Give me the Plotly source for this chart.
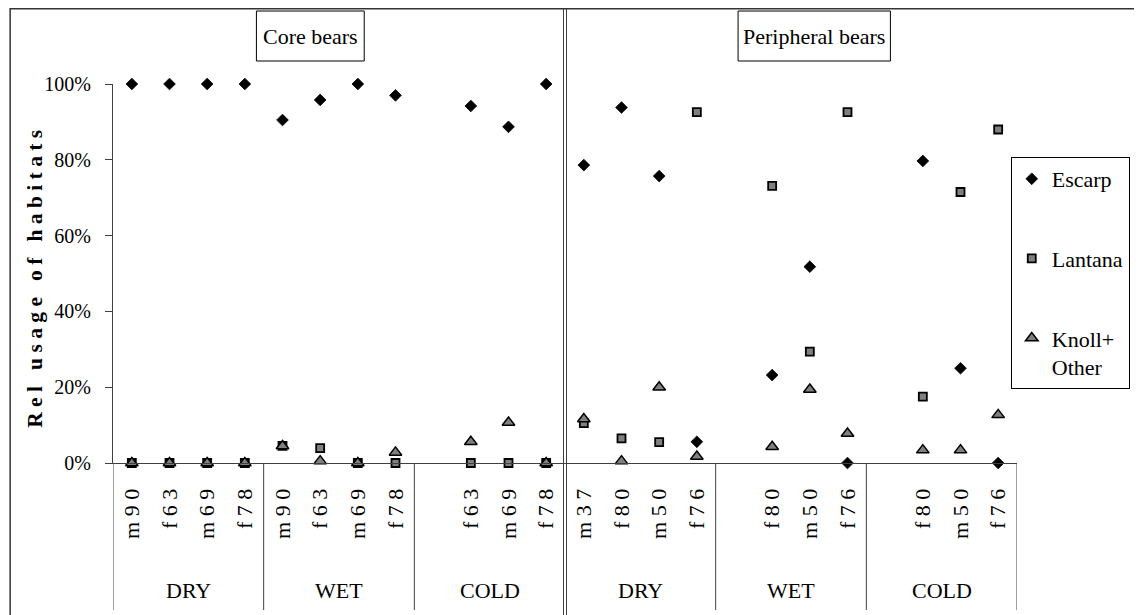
import plotly.graph_objects as go

# ---------------- data ----------------
bear_labels = ["m 9 0", "f 6 3", "m 6 9", "f 7 8",
               "m 9 0", "f 6 3", "m 6 9", "f 7 8",
               "", "f 6 3", "m 6 9", "f 7 8",
               "m 3 7", "f 8 0", "m 5 0", "f 7 6",
               "", "f 8 0", "m 5 0", "f 7 6",
               "", "f 8 0", "m 5 0", "f 7 6"]
season_labels = ["DRY", "WET", "COLD", "DRY", "WET", "COLD"]
panel_titles = ["Core bears", "Peripheral bears"]

escarp = [100, 100, 100, 100, 90.5, 95.8, 100, 97.0, None, 94.2, 88.7, 100,
          78.6, 93.8, 75.7, 5.6, None, 23.2, 51.8, 0, None, 79.7, 25.0, 0]
lantana = [0, 0, 0, 0, 4.5, 3.9, 0, 0, None, 0, 0, 0,
           10.5, 6.5, 5.5, 92.6, None, 73.1, 29.4, 92.6, None, 17.5, 71.5, 88.0]
knoll = [0, 0, 0, 0, 4.5, 0.5, 0, 2.8, None, 5.6, 10.7, 0,
         11.6, 0.5, 20.0, 1.7, None, 4.3, 19.4, 7.8, None, 3.4, 3.4, 12.7]

y_ticks = [0, 20, 40, 60, 80, 100]
y_tick_labels = ["0%", "20%", "40%", "60%", "80%", "100%"]

# ---------------- geometry helpers ----------------
OFF = 8                      # page body margin of the html page
W, H = 1142 - OFF, 615 - OFF
PL, PR, PT, PB = 113, 1027, 84, 463   # plot area in screenshot pixels
FONT = '"Liberation Serif", "Times New Roman", Times, serif'


def xp(px):
    return (px - PL) / (PR - PL)


def yp(py):
    return (PB - py) / (PB - PT)


x = list(range(len(bear_labels)))
fig = go.Figure()

fig.add_trace(go.Scatter(
    x=x, y=escarp, mode="markers", name="Escarp", legendgroup="a",
    marker=dict(symbol="diamond", size=9, color="black",
                line=dict(color="black", width=0.8)),
    cliponaxis=False))
fig.add_trace(go.Scatter(
    x=x, y=lantana, mode="markers", name="Lantana", legendgroup="b",
    marker=dict(symbol="square", size=8, color="#808080",
                line=dict(color="black", width=1.8)),
    cliponaxis=False))
fig.add_trace(go.Scatter(
    x=x, y=knoll, mode="markers", name="Knoll+<br>Other", legendgroup="c",
    marker=dict(symbol="triangle-up", size=11, color="#808080",
                line=dict(color="black", width=1.5)),
    cliponaxis=False))

shapes = []
LC = "#404040"
# group separators below the axis
for sx in [-0.5, 3.5, 7.5, 15.5, 19.5, 23.5]:
    shapes.append(dict(type="line", xref="x", yref="paper", x0=sx, x1=sx,
                       y0=0, y1=yp(610), line=dict(color=LC, width=1)))
# double divider between panels
for off in (-0.04, 0.04):
    shapes.append(dict(type="line", xref="x", yref="paper", x0=11.5 + off,
                       x1=11.5 + off, y0=yp(620), y1=yp(8),
                       line=dict(color=LC, width=1)))
# outer frame
shapes.append(dict(type="line", xref="paper", yref="paper", x0=xp(9), x1=xp(1150),
                   y0=yp(8.5), y1=yp(8.5), line=dict(color="#333333", width=2)))
shapes.append(dict(type="line", xref="paper", yref="paper", x0=xp(9), x1=xp(9),
                   y0=yp(8), y1=yp(620), line=dict(color="#333333", width=1.5)))
# panel title boxes
boxes = [(258, 367), (745, 899)]
for (bx0, bx1) in boxes:
    shapes.append(dict(type="rect", xref="paper", yref="paper", x0=xp(bx0), x1=xp(bx1),
                       y0=yp(61), y1=yp(11), line=dict(color="black", width=1),
                       fillcolor="white"))

annotations = []
for (bx0, bx1), t in zip(boxes, panel_titles):
    annotations.append(dict(text=t, xref="paper", yref="paper", x=xp((bx0 + bx1) / 2),
                            y=yp(36), showarrow=False, xanchor="center", yanchor="middle",
                            font=dict(family=FONT, size=22, color="black")))
for i, s in enumerate(season_labels):
    annotations.append(dict(text=s, xref="x", yref="paper", x=4 * i + 1.5, y=yp(590),
                            showarrow=False, xanchor="center", yanchor="middle",
                            font=dict(family=FONT, size=22, color="black")))
nb = "\u00a0"
ytitle = f"R e l{nb} {nb}u s a g e{nb} {nb}o f{nb} {nb}h a b i t a t s"
annotations.append(dict(text=f"<b>{ytitle}</b>", xref="paper", yref="paper",
                        x=xp(34), y=yp(279), textangle=-90, showarrow=False,
                        xanchor="center", yanchor="middle",
                        font=dict(family=FONT, size=21.5, color="black")))

fig.update_layout(
    width=W, height=H,
    margin=dict(l=PL - OFF, r=W - (PR - OFF), t=PT - OFF, b=H - (PB - OFF), pad=0),
    paper_bgcolor="white", plot_bgcolor="white",
    font=dict(family=FONT, size=20, color="black"),
    shapes=shapes, annotations=annotations,
    showlegend=True,
    legend=dict(x=xp(1141), xanchor="right", y=yp(157), yanchor="top",
                bordercolor="black", borderwidth=1, bgcolor="white",
                font=dict(family=FONT, size=22, color="black"),
                traceorder="grouped", tracegroupgap=48, valign="top",
                itemwidth=30),
    xaxis=dict(range=[-0.5, 23.5], tickmode="array", tickvals=x, ticktext=bear_labels,
               tickangle=-90, showgrid=False, zeroline=False, showline=True,
               linecolor=LC, linewidth=1, ticks="", ticklabelstandoff=16,
               automargin=False, tickfont=dict(family=FONT, size=22)),
    yaxis=dict(range=[0, 100], tickmode="array", tickvals=y_ticks, ticktext=y_tick_labels,
               showgrid=False, zeroline=False, showline=True, linecolor=LC, linewidth=1,
               ticks="outside", ticklen=7, tickcolor=LC, ticklabelstandoff=10,
               automargin=False, tickfont=dict(family=FONT, size=20)),
)

fig.write_html("out.html")
